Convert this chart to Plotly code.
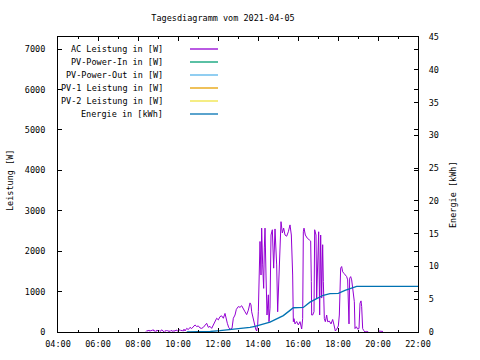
import plotly.graph_objects as go

DAY = "2021-04-05"

ac_times = ["08:24","08:27","08:30","08:33","08:36","08:39","08:42","08:45","08:48","08:51","08:54","08:57",
            "09:00","09:03","09:06","09:09","09:12","09:15","09:18","09:21","09:24","09:27","09:30","09:33",
            "09:36","09:39","09:42","09:45","09:48","09:51","09:54","09:57","10:00","10:03","10:06","10:09",
            "10:12","10:15","10:18","10:21","10:26","10:31","10:36","10:41","10:46","10:51","10:56","11:01",
            "11:06","11:11","11:16","11:21","11:26","11:31","11:36","11:41","11:46","11:51","11:56","12:01",
            "12:06","12:11","12:16","12:21","12:24","12:28","12:32","12:36","12:42","12:46","12:51","12:55",
            "13:01","13:06","13:11","13:16","13:21","13:26","13:31","13:36","13:39","13:41","13:44","13:49",
            "13:53","13:56","13:59","14:01","14:03","14:06","14:09","14:11","14:14","14:17","14:19","14:21",
            "14:24","14:27","14:31","14:33","14:36","14:39","14:43","14:47","14:51","14:56","14:59","15:02",
            "15:06","15:09","15:13","15:17","15:21","15:26","15:31","15:36","15:40","15:44","15:46","15:48",
            "15:51","15:56","16:01","16:06","16:11","16:14","16:16","16:18","16:22","16:28","16:34","16:38",
            "16:40","16:41","16:44","16:48","16:50","16:54","16:56","16:59","17:02","17:05","17:08","17:11",
            "17:14","17:16","17:19","17:22","17:26","17:29","17:34","17:39","17:44","17:48","17:52","17:56",
            "18:01","18:04","18:06","18:08","18:11","18:14","18:18","18:22","18:26","18:29","18:31","18:33",
            "18:35","18:38","18:41","18:44","18:47","18:49","18:51","18:55","18:59","19:03","19:06","19:09",
            "19:11","19:14","19:17","19:21","19:26","19:31","19:45",
            "20:00","20:03","20:06","20:09","20:12","20:15"]
ac_watts = [10,40,20,50,15,45,30,60,20,35,10,50,
            25,40,15,30,55,20,10,35,20,45,15,30,
            10,40,25,15,35,20,50,30,20,40,60,30,
            45,20,70,25,90,60,115,85,120,175,135,150,
            100,90,115,160,215,115,140,90,180,255,340,300,
            380,400,340,460,340,215,115,65,90,340,420,560,
            630,610,650,590,500,430,540,720,670,500,400,175,
            75,25,175,500,1250,2240,1410,2570,1660,1080,2080,2570,
            1410,420,920,255,590,2400,2530,1580,2550,1660,500,1250,
            2240,2730,2450,2570,2400,2370,2480,2650,2400,1410,255,330,
            200,260,175,255,75,330,2480,2570,2400,2320,2280,2250,
            1250,420,420,500,2530,2400,840,2080,2480,420,2400,840,
            2160,1250,330,255,420,255,270,200,310,175,25,65,
            150,420,840,1580,1620,1490,1450,1410,1370,1290,750,200,
            1330,1370,1290,1120,840,750,85,130,70,85,710,770,
            630,85,40,0,15,0,None,
            10,30,15,25,10,20]

energy_times = ["10:26","11:36","11:37","12:06","12:36","13:06","13:36","13:51","14:06","14:21","14:36",
                "14:56","15:16","15:36","15:46","16:16","16:36","16:56","17:16","17:36","18:01","18:21",
                "18:41","18:56","22:00"]
energy_kwh = [0,0,0.08,0.2,0.35,0.5,0.7,0.85,1.1,1.3,1.5,
              2.0,2.5,3.3,3.7,3.75,4.55,5.1,5.6,5.85,5.9,6.35,
              6.75,6.95,6.95]

pv_in_times, pv_in_watts = [], []
pv_out_times, pv_out_watts = [], []
pv1_times, pv1_watts = [], []
pv2_times, pv2_watts = [], []

series_names = ["AC Leistung in [W]", "PV-Power-In in [W]", "PV-Power-Out in [W]",
                "PV-1 Leistung in [W]", "PV-2 Leistung in [W]", "Energie in [kWh]"]
series_colors = ["#9400D3", "#009E73", "#56B4E9", "#E69F00", "#F0E442", "#0072B2"]

hour_ticks = ["04:00","06:00","08:00","10:00","12:00","14:00","16:00","18:00","20:00","22:00"]
left_ticks = [0,1000,2000,3000,4000,5000,6000,7000]
right_ticks = [0,5,10,15,20,25,30,35,40,45]

def ts(lst):
    return [f"{DAY} {t}" for t in lst]

FONT = "DejaVu Sans Mono"
FS = 8.5

fig = go.Figure()
fig.add_trace(go.Scatter(x=ts(ac_times), y=ac_watts, mode="lines", name=series_names[0],
                         line=dict(color=series_colors[0], width=1), connectgaps=False))
for tt, vv, nm, col in [(pv_in_times, pv_in_watts, series_names[1], series_colors[1]),
                        (pv_out_times, pv_out_watts, series_names[2], series_colors[2]),
                        (pv1_times, pv1_watts, series_names[3], series_colors[3]),
                        (pv2_times, pv2_watts, series_names[4], series_colors[4])]:
    fig.add_trace(go.Scatter(x=ts(tt), y=vv, mode="lines", name=nm, line=dict(color=col, width=1)))
fig.add_trace(go.Scatter(x=ts(energy_times), y=energy_kwh, mode="lines", name=series_names[5],
                         yaxis="y2", line=dict(color=series_colors[5], width=1.3)))

L, R, T, B = 58, 62, 37, 28
PW, PH = 480 - L - R, 360 - T - B

def px2paper_x(px):
    return (px - L) / PW

def py2paper_y(py):
    return (360 - B - py) / PH

# custom gnuplot-style key (text right-aligned, sample line on the right)
annotations = []
shapes = []
row_y = [48.5, 61.5, 74.5, 87.5, 100.5, 113.5]
for i, (nm, col) in enumerate(zip(series_names, series_colors)):
    annotations.append(dict(x=px2paper_x(165), y=py2paper_y(row_y[i]), xref="paper", yref="paper",
                            text=nm, showarrow=False, xanchor="right", yanchor="middle",
                            font=dict(family=FONT, size=FS, color="black")))
    shapes.append(dict(type="line", xref="paper", yref="paper",
                       x0=px2paper_x(190), x1=px2paper_x(218),
                       y0=py2paper_y(row_y[i] + 0.5), y1=py2paper_y(row_y[i] + 0.5),
                       line=dict(color=col, width=1.3)))

annotations.append(dict(x=px2paper_x(10), y=py2paper_y(181), xref="paper", yref="paper",
                        text="Leistung [W]", textangle=-90, showarrow=False,
                        xanchor="center", yanchor="middle",
                        font=dict(family=FONT, size=FS, color="black")))
annotations.append(dict(x=px2paper_x(453), y=py2paper_y(195), xref="paper", yref="paper",
                        text="Energie [kWh]", textangle=-90, showarrow=False,
                        xanchor="center", yanchor="middle",
                        font=dict(family=FONT, size=FS, color="black")))

fig.update_layout(
    width=480, height=360,
    margin=dict(l=L, r=R, t=T, b=B, autoexpand=False),
    paper_bgcolor="white", plot_bgcolor="white",
    showlegend=False,
    title=dict(text="Tagesdiagramm vom 2021-04-05", x=px2paper_x(223), xref="paper",
               xanchor="center", y=1 - 18 / 360, yref="container", yanchor="middle",
               font=dict(family=FONT, size=FS, color="black")),
    font=dict(family=FONT, size=FS, color="black"),
    xaxis=dict(type="date", range=[f"{DAY} 04:00", f"{DAY} 22:00"], automargin=False,
               tickmode="array", tickvals=ts(hour_ticks), ticktext=hour_ticks,
               ticks="inside", ticklen=4, tickcolor="black", tickwidth=1,
               minor=dict(dtick=3600000, tick0=f"{DAY} 04:00", ticks="inside", ticklen=2,
                          tickcolor="black", showgrid=False),
               showline=True, linecolor="black", linewidth=1, mirror="ticks",
               showgrid=False, zeroline=False, ticklabelstandoff=4,
               tickfont=dict(family=FONT, size=FS, color="black")),
    yaxis=dict(range=[0, 7300], tickmode="array", tickvals=left_ticks, automargin=False,
               ticks="inside", ticklen=4, tickcolor="black",
               showline=True, linecolor="black", linewidth=1, mirror="ticks",
               showgrid=False, zeroline=False, ticklabelstandoff=10,
               tickfont=dict(family=FONT, size=FS, color="black")),
    yaxis2=dict(range=[0, 45], overlaying="y", side="right", tickmode="array", automargin=False,
                tickvals=right_ticks, ticks="inside", ticklen=4, tickcolor="black",
                showline=True, linecolor="black", linewidth=1,
                showgrid=False, zeroline=False, ticklabelstandoff=8,
                tickfont=dict(family=FONT, size=FS, color="black")),
    annotations=annotations,
    shapes=shapes,
)

fig.write_html("out.html", config={"displayModeBar": False},
               post_script="document.body.style.margin='0';document.body.style.padding='0';")
